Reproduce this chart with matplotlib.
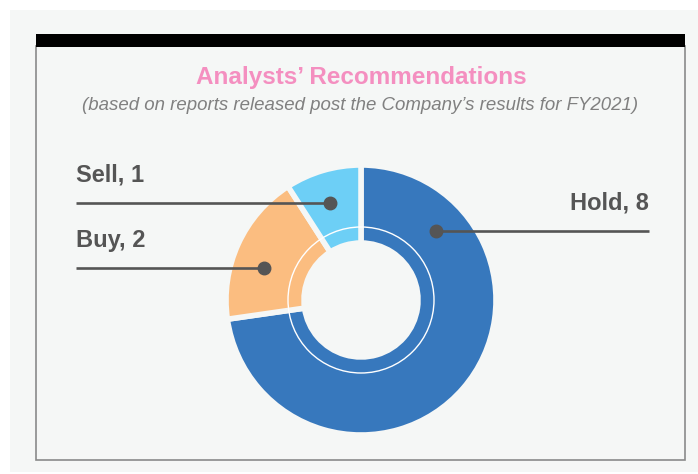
import numpy as np
import matplotlib
matplotlib.use("Agg")
import matplotlib.pyplot as plt
from matplotlib.patches import Rectangle, Circle

plt.rcParams["font.family"] = ["Liberation Sans", "DejaVu Sans"]

# analyst calls after FY2021 results
labels = ["Hold", "Buy", "Sell"]
counts = [8, 2, 1]
colors = ["#3778BD", "#FBBD80", "#6DCFF6"]
# where along each slice (0 = start, 1 = end, clockwise) the leader dot sits
anchor_frac = [0.18, 0.40, 0.46]

W, H = 698, 474
BG = "#F5F7F6"
TEXT = "#555555"

fig = plt.figure(figsize=(W / 100, H / 100), dpi=100)
fig.patch.set_facecolor("white")
ax = fig.add_axes([0, 0, 1, 1])

# panels (pixel space, y measured from the top)
def top(y):
    return H - y

ax.add_patch(Rectangle((10, top(472)), W - 10, 462, facecolor=BG, edgecolor="none", zorder=0))
ax.add_patch(Rectangle((36, top(460)), 649, 414, facecolor=BG, edgecolor="#8a8a8a", lw=1.2, zorder=1))
ax.add_patch(Rectangle((36, top(47)), 649, 13, facecolor="black", edgecolor="none", zorder=2))

ax.text(361, top(77), "Analysts\u2019 Recommendations", ha="center", va="center",
        fontsize=17.5, fontweight="bold", color="#F48FC0", zorder=5)
ax.text(360, top(105), "(based on reports released post the Company\u2019s results for FY2021)",
        ha="center", va="center", fontsize=13.4, style="italic", color="#808080", zorder=5)

# donut
cx, cy = 361, top(300)
R, r_in = 134, 58
wedges, _ = ax.pie(counts, colors=colors, startangle=90, counterclock=False,
                   radius=R + 1, center=(cx, cy), frame=True,
                   wedgeprops=dict(width=R - r_in + 2, edgecolor=BG, linewidth=4,
                                   joinstyle="round", zorder=3))
ax.add_patch(Circle((cx, cy), 73, facecolor="none", edgecolor="white", lw=1.0, zorder=4))

# leader lines
label_x = {"Hold": 649, "Buy": 76, "Sell": 76}
r_dot = 102
for w, lab, n, f in zip(wedges, labels, counts, anchor_frac):
    a0, a1 = w.theta1, w.theta2
    ang = np.deg2rad(a1 - f * (a1 - a0))
    dx, dy = cx + r_dot * np.cos(ang), cy + r_dot * np.sin(ang)
    lx = label_x[lab]
    ax.plot([lx, dx], [dy, dy], color=TEXT, lw=1.9, zorder=6, solid_capstyle="butt")
    ax.plot(dx, dy, "o", color=TEXT, ms=9, zorder=7)
    ha = "right" if lx > cx else "left"
    ax.text(lx, dy + 28, f"{lab}, {n}", ha=ha, va="center", fontsize=17,
            fontweight="bold", color=TEXT, zorder=7)

ax.set_xlim(0, W)
ax.set_ylim(0, H)
ax.set_aspect("auto")
ax.axis("off")

fig.savefig("out.png", dpi=100, facecolor="white")
